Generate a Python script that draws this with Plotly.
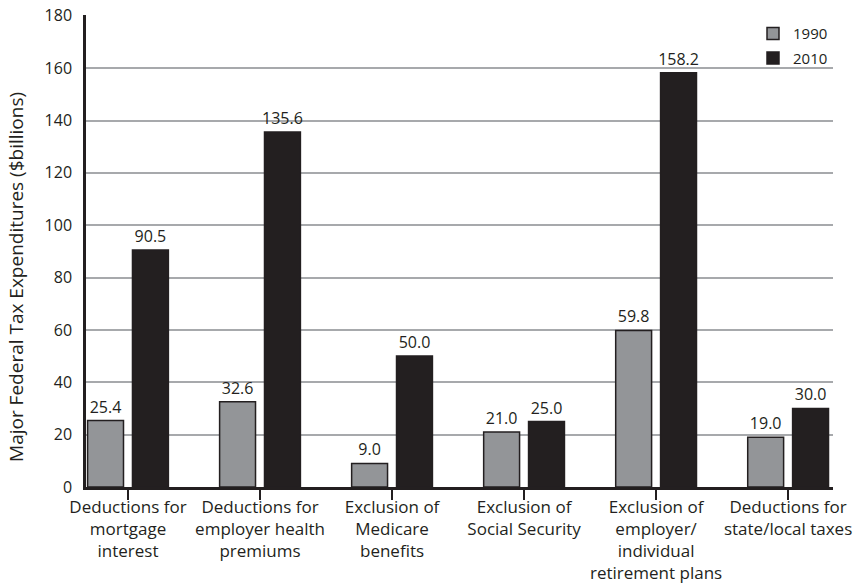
import plotly.graph_objects as go

categories = [
    "Deductions for<br>mortgage<br>interest",
    "Deductions for<br>employer health<br>premiums",
    "Exclusion of<br>Medicare<br>benefits",
    "Exclusion of<br>Social Security",
    "Exclusion of<br>employer/<br>individual<br>retirement plans",
    "Deductions for<br>state/local taxes",
]
values_1990 = [25.4, 32.6, 9.0, 21.0, 59.8, 19.0]
values_2010 = [90.5, 135.6, 50.0, 25.0, 158.2, 30.0]
y_ticks = [0, 20, 40, 60, 80, 100, 120, 140, 160, 180]
y_title = "Major Federal Tax Expenditures ($billions)"

FONT = "Open Sans"
DARK = "#231f20"

fig = go.Figure()
fig.add_trace(go.Bar(
    name="1990", x=list(range(len(categories))), y=values_1990, legendgroup="a",
    marker=dict(color="#939598", line=dict(color=DARK, width=1.5)),
    texttemplate="%{y:.1f}", textposition="outside", constraintext="none",
    textfont=dict(family=FONT, size=16, color=DARK), cliponaxis=False,
))
fig.add_trace(go.Bar(
    name="2010", x=list(range(len(categories))), y=values_2010, legendgroup="b",
    marker=dict(color=DARK, line=dict(color=DARK, width=1.5)),
    texttemplate="%{y:.1f}", textposition="outside", constraintext="none",
    textfont=dict(family=FONT, size=16, color=DARK), cliponaxis=False,
))

fig.update_layout(
    width=854, height=587,
    margin=dict(l=86, r=21, t=15, b=100, autoexpand=False),
    paper_bgcolor="white", plot_bgcolor="white",
    barmode="group", bargap=0.32, bargroupgap=0.2,
    font=dict(family=FONT, color=DARK, size=14),
    legend=dict(x=1.0, y=0.995, xanchor="right", yanchor="top",
                font=dict(size=15, color=DARK), bgcolor="rgba(0,0,0,0)",
                itemwidth=30, tracegroupgap=2),
    xaxis=dict(
        tickmode="array", tickvals=list(range(len(categories))), ticktext=categories,
        range=[-0.318, 5.34], tickson="boundaries", ticks="outside", ticklen=10,
        tickwidth=2, tickcolor=DARK, showline=True, linecolor=DARK, linewidth=2.5,
        tickangle=0, tickfont=dict(size=17, color=DARK), showgrid=False,
        automargin=False, ticklabelstandoff=-7,
    ),
    yaxis=dict(
        range=[0, 180.3], tickvals=y_ticks, showgrid=True, gridcolor="#a7a9ac",
        gridwidth=2, showline=True, linecolor=DARK, linewidth=2.5,
        ticks="outside", ticklen=8, tickcolor="rgba(0,0,0,0)",
        tickfont=dict(size=16, color=DARK), zeroline=False, automargin=False,
        ticklabeloverflow="allow",
    ),
    annotations=[dict(
        text=y_title, textangle=-90, xref="paper", yref="paper",
        x=0, y=0.445, xanchor="center", yanchor="middle", xshift=-70,
        showarrow=False, font=dict(family=FONT, size=19, color=DARK),
    )],
)

fig.write_html("out.html", config={"displayModeBar": False},
               post_script="document.body.style.margin='0';")
